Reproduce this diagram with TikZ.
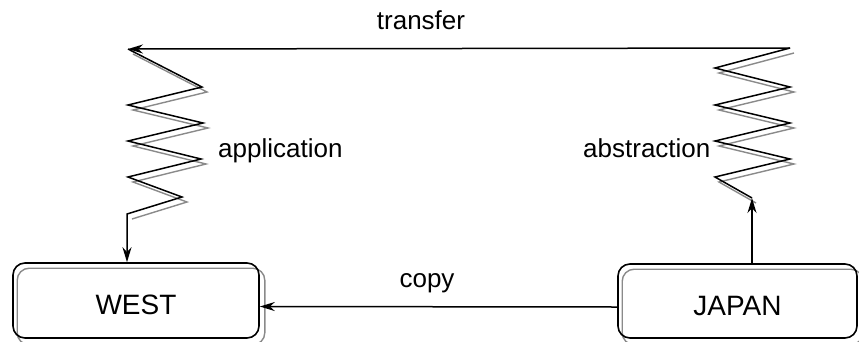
\documentclass[tikz,border=0pt]{standalone}
\usepackage{fontspec}
\setmainfont{Liberation Sans}
\usetikzlibrary{arrows.meta,backgrounds}
\definecolor{shadowgray}{HTML}{8A8A8A}
\tikzset{
  boxnode/.style={draw=black, line width=1.6pt, rounded corners=12pt,
    font=\fontsize{28}{32}\selectfont, text height=28pt, text depth=0pt, inner sep=0pt},
  lbl/.style={font=\fontsize{26}{30}\selectfont, inner sep=0pt},
  conn/.style={line width=1.5pt, line join=miter},
  shadowline/.style={shadowgray, line width=1.4pt},
  tip/.style={-{Stealth[length=15pt, width=9pt]}}
}
\begin{document}
\begin{tikzpicture}[x=1pt, y=-1pt]
\useasboundingbox (0,0) rectangle (859,341);
\clip (0,0) rectangle (859,341);
% boxes
\node[boxnode, minimum width=246pt, minimum height=75pt] (w) at (136,300.5) {WEST};
\node[boxnode, minimum width=239pt, minimum height=74pt] (j) at (737.5,301) {JAPAN};
\begin{scope}[on background layer]
  \draw[shadowline, rounded corners=12pt] ([shift={(5pt,-6pt)}]w.north west) rectangle ([shift={(5pt,-6pt)}]w.south east);
  \draw[shadowline, rounded corners=12pt] ([shift={(5pt,-6pt)}]j.north west) rectangle ([shift={(5pt,-6pt)}]j.south east);
\end{scope}
% left zigzag vertices
\coordinate (a0) at (128,49);
\coordinate (a1) at (202,87);
\coordinate (a2) at (128,105);
\coordinate (a3) at (203,123);
\coordinate (a4) at (128,141);
\coordinate (a5) at (201,159);
\coordinate (a6) at (128,177);
\coordinate (a7) at (182,197);
\coordinate (a8) at (127,214);
% right zigzag vertices
\coordinate (b0) at (790,48);
\coordinate (b1) at (715,68);
\coordinate (b2) at (790,87);
\coordinate (b3) at (715,105);
\coordinate (b4) at (790,123);
\coordinate (b5) at (715,141);
\coordinate (b6) at (790,159);
\coordinate (b7) at (715,177);
\coordinate (b8) at (752,198);
% shadows
\draw[shadowline, transform canvas={xshift=5pt, yshift=-5pt}] (a0) -- (a1) -- (a2) -- (a3) -- (a4) -- (a5) -- (a6) -- (a7) -- (a8);
\draw[shadowline, transform canvas={xshift=4pt, yshift=-5pt}] (b0) -- (b1) -- (b2) -- (b3) -- (b4) -- (b5) -- (b6) -- (b7) -- (b8);
% connectors
\draw[conn, tip] (b0) -- (a0);
\draw[conn, tip] (a0) -- (a1) -- (a2) -- (a3) -- (a4) -- (a5) -- (a6) -- (a7) -- (a8) -- (w.north -| a8);
\draw[conn] (b0) -- (b1) -- (b2) -- (b3) -- (b4) -- (b5) -- (b6) -- (b7) -- (b8);
\draw[conn, tip] (j.north -| b8) -- (b8);
\draw[conn, tip] ([yshift=-6pt]j.west) -- ([yshift=-6pt]w.east);
% labels
\node[lbl, anchor=base] (t1) at (421,29) {transfer};
\node[lbl, anchor=base west] (t2) at (218,157) {application};
\node[lbl, anchor=base west] (t3) at (583,157) {abstraction};
\node[lbl, anchor=base] (t4) at (427,287) {copy};
\end{tikzpicture}
\end{document}
